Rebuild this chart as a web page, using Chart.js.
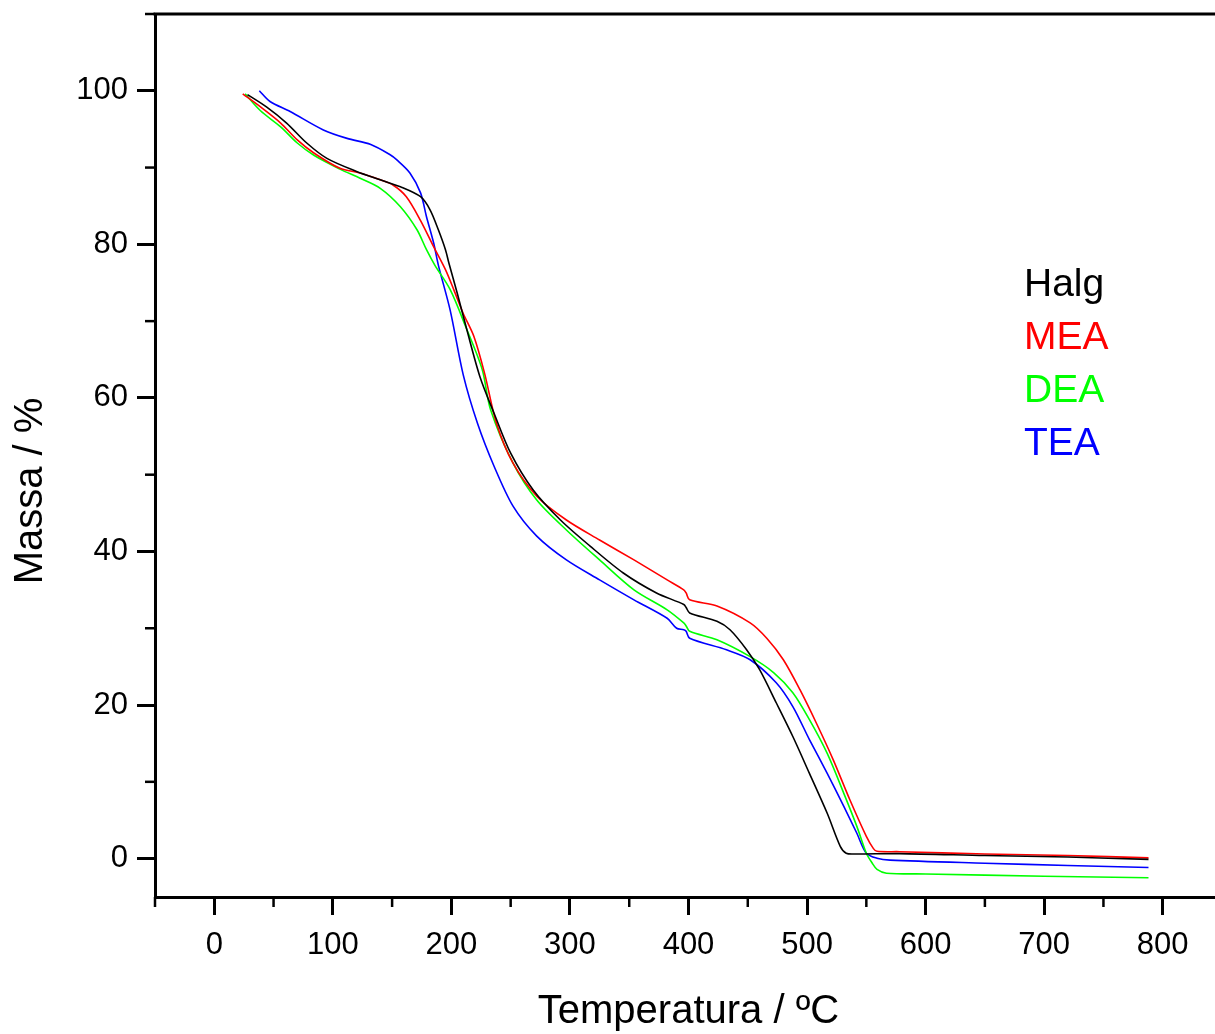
<!DOCTYPE html>
<html>
<head>
<meta charset="utf-8">
<script src="https://cdn.jsdelivr.net/npm/chart.js@4/dist/chart.umd.min.js"></script>
<style>
  html, body { margin: 0; padding: 0; background: #fff; overflow: hidden; }
  #wrap { width: 1230px; height: 1034px; }
</style>
</head>
<body>
<div id="wrap"><canvas id="c" width="1230" height="1034"></canvas></div>
<script>
// ---- data ----
const seriesNames = ['Halg', 'MEA', 'DEA', 'TEA'];
const seriesColors = ['#000000', '#ff0000', '#00ff00', '#0000ff'];

const halgT = [28,44,61,78,95,120,140,157,174,182,189,195,198,205,213,224,236,250,269,292,317,345,373,396,398,401,424,435,449,460,474,488,502,517,528,533,540,578,650,720,788];
const halgM = [99.5,97.9,95.8,93.2,91.2,89.5,88.4,87.5,86.2,84.5,81.9,79.3,77.5,73.6,68.9,62.8,58.0,52.8,48.0,44.1,40.7,37.2,34.6,33.1,32.7,32.0,30.9,29.8,27.2,24.6,20.3,15.9,11.1,5.9,1.6,0.7,0.6,0.65,0.4,0.2,-0.1];

const meaT = [24,39,56,70,84,106,123,140,151,162,174,185,195,202,210,219,228,238,252,272,297,325,354,382,396,398,401,424,452,466,480,494,508,522,536,550,556,559,578,650,720,788];
const meaM = [99.6,97.9,95.8,93.6,91.9,89.9,89.3,88.4,87.7,86.2,83.1,79.7,76.7,74.1,71.0,68.0,63.2,56.7,51.5,47.2,44.1,41.5,38.9,36.3,35.0,34.6,33.7,32.9,30.7,28.7,25.9,22.0,17.6,12.9,7.7,2.9,1.3,0.95,0.9,0.6,0.4,0.1];

const deaT = [26,39,56,70,84,106,123,140,157,171,179,186,199,212,226,233,252,272,297,325,354,382,396,398,401,424,452,472,488,502,517,531,542,550,555,559,567,600,700,788];
const deaM = [99.6,97.4,95.3,93.2,91.6,89.8,88.6,87.3,84.9,81.9,79.3,77.3,74.1,69.3,63.7,58.5,51.5,46.7,42.8,38.9,35.0,32.4,30.7,30.3,29.6,28.5,26.3,24.2,21.6,18.1,13.7,8.5,4.2,0.7,-0.6,-1.4,-1.9,-2.0,-2.3,-2.5];

const teaT = [38,47,64,92,112,132,148,154,165,174,179,185,189,199,210,222,236,252,272,297,325,354,382,390,396,398,401,432,452,474,488,502,517,531,542,550,559,570,650,720,788];
const teaM = [100.0,98.6,97.3,94.9,93.8,93.0,91.7,91.0,89.3,86.7,83.6,80.2,77.3,71.4,63.0,56.7,51.1,45.9,42.0,38.9,36.3,33.7,31.3,30.0,29.8,29.6,28.7,27.2,25.9,22.9,19.8,15.5,11.1,6.8,3.3,0.7,0.05,-0.2,-0.6,-0.9,-1.15];

const xMajorTicks = [0,100,200,300,400,500,600,700,800];
const xMinorTicks = [-50,50,150,250,350,450,550,650,750,850];
const yMajorTicks = [0,20,40,60,80,100];
const yMinorTicks = [10,30,50,70,90,110];

const xTitle = 'Temperatura / ºC';
const yTitle = 'Massa / %';

// ---- build datasets ----
const allT = [halgT, meaT, deaT, teaT];
const allM = [halgM, meaM, deaM, teaM];
const datasets = seriesNames.map((name, i) => ({
  label: name,
  data: allT[i].map((t, k) => ({ x: t, y: allM[i][k] })),
  borderColor: seriesColors[i],
  backgroundColor: seriesColors[i],
  borderWidth: 1.6,
  pointRadius: 0,
  fill: false,
  tension: 0.3
}));

const FONT = "'Liberation Sans', Arial, sans-serif";

const decorPlugin = {
  id: 'decor',
  afterDraw(chart) {
    const ctx = chart.ctx;
    const area = chart.chartArea;
    const xs = chart.scales.x, ys = chart.scales.y;
    ctx.save();
    ctx.strokeStyle = '#000';
    ctx.lineWidth = 3;
    // top frame line
    ctx.beginPath();
    ctx.moveTo(area.left - 1.5, area.top);
    ctx.lineTo(area.right, area.top);
    ctx.stroke();
    // minor ticks
    ctx.lineWidth = 2.5;
    xMinorTicks.forEach(v => {
      const px = xs.getPixelForValue(v);
      ctx.beginPath();
      ctx.moveTo(px, area.bottom);
      ctx.lineTo(px, area.bottom + 10);
      ctx.stroke();
    });
    yMinorTicks.forEach(v => {
      const py = ys.getPixelForValue(v);
      ctx.beginPath();
      ctx.moveTo(area.left, py);
      ctx.lineTo(area.left - 10, py);
      ctx.stroke();
    });
    // axis titles
    ctx.fillStyle = '#000';
    ctx.font = '40px ' + FONT;
    ctx.textAlign = 'center';
    ctx.textBaseline = 'middle';
    ctx.fillText(xTitle, (area.left + area.right) / 2, 1012);
    ctx.save();
    ctx.translate(31, 491);
    ctx.rotate(-Math.PI / 2);
    ctx.fillText(yTitle, 0, 0);
    ctx.restore();
    // legend (text only, coloured)
    ctx.font = '39px ' + FONT;
    ctx.textAlign = 'left';
    ctx.textBaseline = 'alphabetic';
    const baselines = [296, 349, 402, 455];
    chart.data.datasets.forEach((ds, i) => {
      ctx.fillStyle = ds.borderColor;
      ctx.fillText(ds.label, 1024, baselines[i]);
    });
    ctx.restore();
  }
};

new Chart(document.getElementById('c'), {
  type: 'line',
  data: { datasets },
  options: {
    responsive: false,
    devicePixelRatio: 1,
    animation: false,
    events: [],
    layout: { padding: { left: 0, top: 14, right: 8, bottom: 0 } },
    plugins: { legend: { display: false }, tooltip: { enabled: false } },
    scales: {
      x: {
        type: 'linear',
        min: -50, max: 850,
        afterBuildTicks: s => { s.ticks = xMajorTicks.map(v => ({ value: v })); },
        afterFit: s => { s.height = 137; s.paddingLeft = 0; s.paddingRight = 0; },
        grid: { drawOnChartArea: false, drawTicks: true, tickLength: 18, tickWidth: 3, color: '#000' },
        border: { display: true, width: 3, color: '#000' },
        ticks: { color: '#000', font: { size: 31, family: FONT }, padding: 12, maxRotation: 0, autoSkip: false }
      },
      y: {
        type: 'linear',
        min: -5, max: 110,
        afterBuildTicks: s => { s.ticks = yMajorTicks.map(v => ({ value: v })); },
        afterFit: s => { s.width = 155; s.paddingTop = 0; s.paddingBottom = 0; },
        grid: { drawOnChartArea: false, drawTicks: true, tickLength: 18, tickWidth: 3, color: '#000' },
        border: { display: true, width: 3, color: '#000' },
        ticks: { color: '#000', font: { size: 31, family: FONT }, padding: 9, autoSkip: false }
      }
    }
  },
  plugins: [decorPlugin]
});
</script>
</body>
</html>
